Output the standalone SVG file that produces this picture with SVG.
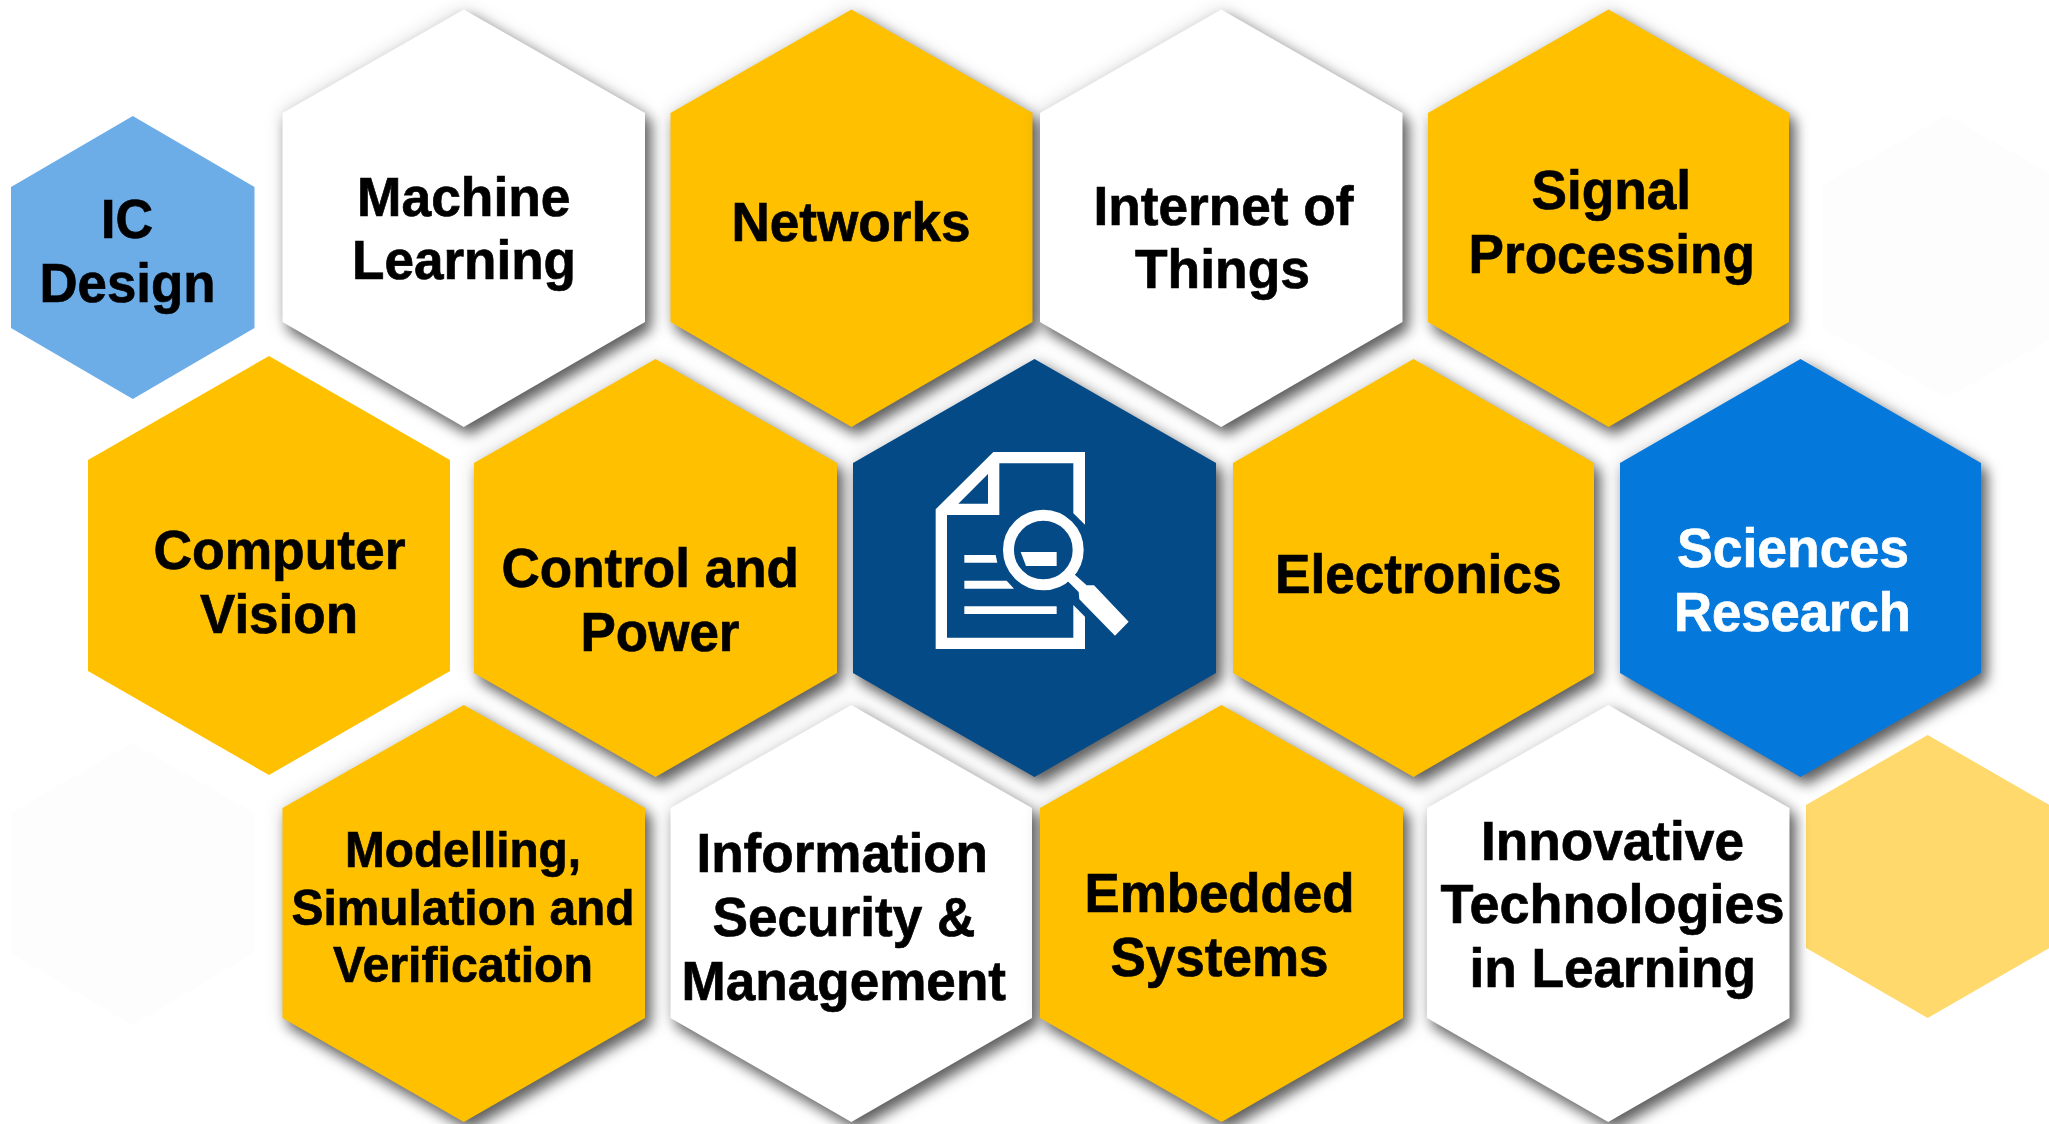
<svg xmlns="http://www.w3.org/2000/svg" width="2049" height="1124" viewBox="0 0 2049 1124">
<style>
text{font-family:"Liberation Sans",Arial,sans-serif;font-weight:700;font-size:55px;fill:#000;stroke:#000;stroke-width:.7px}
.small text{font-size:50px}
.light text{fill:#fff;stroke:#fff}
.gold{fill:#FFC000}.white{fill:#fff}.navy{fill:#034A87}.blue{fill:#0578DC}.sky{fill:#6CADE8}.pale{fill:#FFD96C}.faint{fill:#FDFDFD}
.sh{filter:url(#shadow)}
.ico{fill:#fff}
</style>
<defs>
<filter id="shadow" x="-15%" y="-15%" width="130%" height="130%" color-interpolation-filters="sRGB">
<feGaussianBlur in="SourceAlpha" stdDeviation="7" result="b1"/>
<feOffset in="b1" dx="6" dy="8" result="o1"/>
<feFlood flood-color="#000" flood-opacity=".6"/>
<feComposite in2="o1" operator="in" result="s1"/>
<feGaussianBlur in="SourceAlpha" stdDeviation="9" result="b2"/>
<feFlood flood-color="#000" flood-opacity=".16"/>
<feComposite in2="b2" operator="in" result="s2"/>
<feMerge><feMergeNode in="s2"/><feMergeNode in="s1"/><feMergeNode in="SourceGraphic"/></feMerge>
</filter>
</defs>
<rect width="2049" height="1124" fill="#fff"/>
<g id="faint-right"><polygon class="faint" points="1946.5,115 2070,185 2070,328 1946.5,398 1823,328 1823,185"/></g>
<g id="faint-left"><polygon class="faint" points="132.5,743 254,813 254,953 132.5,1025 11,953 11,813"/></g>
<g id="pale-hex"><polygon class="pale" points="1927.7,735 2049.4,805 2049.4,948 1927.7,1018 1806,948 1806,805"/></g>

<g id="ic-design"><polygon class="sky" points="132.8,116 254.5,187 254.5,328 132.8,399 11,328 11,187"/>
<text x="101" y="238" textLength="52" lengthAdjust="spacingAndGlyphs">IC</text>
<text x="39.5" y="301.7" textLength="176" lengthAdjust="spacingAndGlyphs">Design</text></g>

<g id="machine-learning"><polygon class="white sh" points="463.8,9.5 645,113 645,322 463.8,427 282.5,322 282.5,113"/>
<text x="357" y="215.5" textLength="213.5" lengthAdjust="spacingAndGlyphs">Machine</text>
<text x="352" y="279" textLength="224" lengthAdjust="spacingAndGlyphs">Learning</text></g>

<g id="networks"><polygon class="gold sh" points="851.5,9.5 1032.5,113 1032.5,322 851.5,427 670.5,322 670.5,113"/>
<text x="731.5" y="241" textLength="239" lengthAdjust="spacingAndGlyphs">Networks</text></g>

<g id="internet-of-things"><polygon class="white sh" points="1221.2,9.5 1402.5,113 1402.5,322 1221.2,427 1040,322 1040,113"/>
<text x="1093.5" y="224.7" textLength="260" lengthAdjust="spacingAndGlyphs">Internet of</text>
<text x="1135" y="288.2" textLength="175" lengthAdjust="spacingAndGlyphs">Things</text></g>

<g id="signal-processing"><polygon class="gold sh" points="1608.5,9.5 1789,113 1789,322 1608.5,427 1428,322 1428,113"/>
<text x="1531.5" y="208.7" textLength="159.5" lengthAdjust="spacingAndGlyphs">Signal</text>
<text x="1468.5" y="272.7" textLength="286.5" lengthAdjust="spacingAndGlyphs">Processing</text></g>

<g id="computer-vision"><polygon class="gold" points="269,356 450,460 450,671 269,775 88,671 88,460"/>
<text x="153.5" y="568.5" textLength="252" lengthAdjust="spacingAndGlyphs">Computer</text>
<text x="200" y="632.5" textLength="158" lengthAdjust="spacingAndGlyphs">Vision</text></g>

<g id="control-and-power"><polygon class="gold sh" points="655.5,359 837,463 837,673 655.5,777 474,673 474,463"/>
<text x="501.5" y="586.5" textLength="297.4" lengthAdjust="spacingAndGlyphs">Control and</text>
<text x="580.5" y="650.5" textLength="159" lengthAdjust="spacingAndGlyphs">Power</text></g>

<g id="center-icon"><polygon class="navy sh" points="1034.5,359 1216,463 1216,673 1034.5,777 853,673 853,463"/>
<g transform="translate(840 350) scale(.33333)" class="ico">
<path fill-rule="evenodd" d="M287 478L460 306H735V524L700 490V340H478V495H321V863H700V765L735 800V897H287ZM355 461H444V372Z"/>
<path d="M373 615H467L472 638H373ZM373 692H500L522 716H373ZM373 769H650V792H373ZM542 606H650V648H558Z"/>
<circle cx="610" cy="600" r="104.5" fill="none" stroke="#fff" stroke-width="33"/>
<path d="M702 672L740 706H762L866 815L825 857L718 748L716 726L682 692Z"/>
</g></g>

<g id="electronics"><polygon class="gold sh" points="1413.5,359 1594,463 1594,673 1413.5,777 1233,673 1233,463"/>
<text x="1275" y="593.2" textLength="286.5" lengthAdjust="spacingAndGlyphs">Electronics</text></g>

<g id="sciences-research" class="light"><polygon class="blue sh" points="1800.5,359 1981,463 1981,673 1800.5,777 1620,673 1620,463"/>
<text x="1677" y="566.7" textLength="232" lengthAdjust="spacingAndGlyphs">Sciences</text>
<text x="1674" y="630.7" textLength="237" lengthAdjust="spacingAndGlyphs">Research</text></g>

<g id="modelling" class="small"><polygon class="gold sh" points="463.8,705 645,808 645,1018 463.8,1122 282.5,1018 282.5,808"/>
<text x="345" y="867" textLength="236" lengthAdjust="spacingAndGlyphs">Modelling,</text>
<text x="291.5" y="924.5" textLength="343" lengthAdjust="spacingAndGlyphs">Simulation and</text>
<text x="333" y="982" textLength="260" lengthAdjust="spacingAndGlyphs">Verification</text></g>

<g id="information-security"><polygon class="white sh" points="851.3,705 1032,808 1032,1018 851.3,1122 670.5,1018 670.5,808"/>
<text x="696.5" y="871.7" textLength="291.5" lengthAdjust="spacingAndGlyphs">Information</text>
<text x="712.5" y="936" textLength="263" lengthAdjust="spacingAndGlyphs">Security &amp;</text>
<text x="681.5" y="999.8" textLength="324.5" lengthAdjust="spacingAndGlyphs">Management</text></g>

<g id="embedded-systems"><polygon class="gold sh" points="1221.5,705 1403,808 1403,1018 1221.5,1122 1040,1018 1040,808"/>
<text x="1084.5" y="912" textLength="270" lengthAdjust="spacingAndGlyphs">Embedded</text>
<text x="1110.5" y="976" textLength="218" lengthAdjust="spacingAndGlyphs">Systems</text></g>

<g id="innovative-technologies"><polygon class="white sh" points="1608.2,705 1789.5,808 1789.5,1018 1608.2,1122 1427,1018 1427,808"/>
<text x="1481" y="859.5" textLength="263" lengthAdjust="spacingAndGlyphs">Innovative</text>
<text x="1440.5" y="923" textLength="344" lengthAdjust="spacingAndGlyphs">Technologies</text>
<text x="1469.5" y="987" textLength="286.5" lengthAdjust="spacingAndGlyphs">in Learning</text></g>
</svg>
